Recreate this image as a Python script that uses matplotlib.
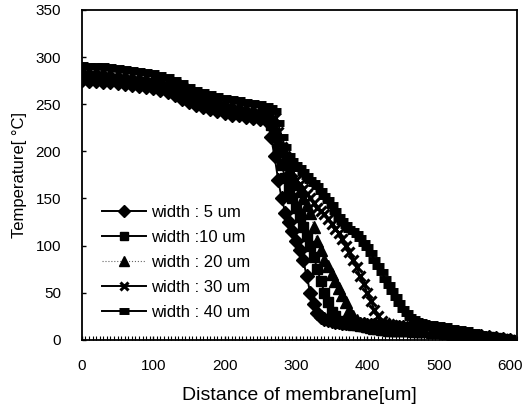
import numpy as np
import matplotlib
matplotlib.use("Agg")
import matplotlib.pyplot as plt

plt.rcParams['font.family'] = ['Liberation Sans', 'DejaVu Sans']

# distance along membrane [um]: 10 um steps, 5 um steps through the drop
dist = np.concatenate([np.arange(0, 251, 10), np.arange(260, 481, 5), np.arange(490, 601, 10)])

w5 = [276, 275, 275, 274, 273, 272, 271, 270, 269, 268, 267, 265, 263, 260, 256, 252,
      249, 247, 245, 243, 241, 239, 238, 236, 235, 234,
      232, 215, 195, 170, 150, 135, 125, 115, 105, 95, 85, 68, 50, 38, 28, 24, 22, 21,
      20, 19, 19, 18, 18, 18, 18, 17, 17, 17, 16, 16, 16, 15, 15, 15, 15, 14, 14, 14,
      14, 13, 13, 13, 12, 12, 11,
      10, 9, 8, 7, 6, 5, 4, 4, 3, 2, 1, 0]
w10 = [280, 279, 279, 278, 277, 276, 275, 274, 273, 272, 271, 269, 267, 264, 260, 256,
       253, 251, 249, 247, 245, 243, 242, 240, 239, 238,
       236, 228, 215, 200, 185, 172, 160, 150, 140, 130, 120, 110, 100, 88, 75, 62, 50,
       40, 30, 25, 20, 18, 17, 17, 16, 16, 15, 15, 14, 14, 14, 13, 13, 13, 13, 12, 12,
       12, 12, 11, 11, 11, 11, 10, 10,
       9, 8, 7, 6, 5, 5, 4, 3, 3, 2, 1, 0]
w20 = [284, 283, 283, 282, 281, 280, 279, 278, 277, 276, 275, 273, 271, 268, 264, 260,
       257, 255, 253, 251, 249, 247, 246, 244, 243, 242,
       240, 235, 225, 212, 200, 190, 180, 172, 165, 158, 150, 143, 135, 120, 105, 95, 85,
       78, 70, 62, 55, 48, 40, 32, 25, 21, 18, 16, 15, 14, 13, 13, 12, 12, 11, 11, 11,
       11, 10, 10, 10, 9, 9, 9, 9,
       8, 8, 7, 6, 5, 4, 4, 3, 2, 2, 1, 0]
w30 = [288, 287, 287, 286, 285, 284, 283, 282, 281, 280, 279, 277, 275, 272, 268, 264,
       261, 259, 257, 255, 253, 251, 250, 248, 247, 246,
       244, 240, 235, 220, 205, 195, 185, 178, 170, 165, 160, 155, 150, 145, 140, 137,
       133, 128, 123, 118, 113, 107, 100, 93, 85, 77, 68, 59, 50, 41, 32, 25, 20, 18, 17,
       16, 15, 14, 14, 13, 13, 12, 12, 11, 11,
       10, 9, 8, 7, 6, 5, 4, 3, 2, 1, 1, 0]
w40 = [292, 291, 291, 290, 289, 288, 287, 286, 285, 284, 283, 281, 279, 276, 272, 268,
       265, 263, 261, 259, 257, 255, 254, 252, 251, 250,
       248, 246, 243, 230, 215, 205, 195, 190, 185, 182, 178, 174, 170, 166, 163, 158,
       153, 148, 143, 137, 130, 126, 122, 118, 115, 112, 108, 103, 98, 92, 85, 78, 72, 65,
       58, 52, 45, 39, 33, 28, 24, 22, 20, 19, 18,
       17, 16, 15, 13, 12, 10, 8, 6, 4, 3, 1, 0]

labels = ['width : 5 um', 'width :10 um', 'width : 20 um', 'width : 30 um', 'width : 40 um']

fig = plt.figure(figsize=(5.25, 4.12), dpi=100)
ax = fig.add_axes([0.156, 0.175, 0.829, 0.801])

ax.plot(dist, w5, color='black', lw=1.4, marker='D', ms=7, label=labels[0])
ax.plot(dist, w10, color='black', lw=1.4, marker='s', ms=7, label=labels[1])
ax.plot(dist, w20, color='0.4', lw=0.8, ls=':', marker='^', ms=8,
        mfc='black', mec='black', label=labels[2])
ax.plot(dist, w30, color='black', lw=1.4, marker='x', ms=7, mew=2.2, label=labels[3])
ax.plot(dist, w40, color='black', lw=1.4, marker='_', ms=8, mew=5, label=labels[4])

ax.set_xlim(0, 610)
ax.set_ylim(0, 350)
ax.set_xticks(range(0, 601, 100))
ax.set_yticks(range(0, 351, 50))
ax.set_xticks(np.arange(0, 611, 5), minor=True)
ax.tick_params(axis='both', direction='in', labelsize=11, length=3, width=1)
ax.tick_params(axis='x', which='minor', direction='in', length=3, width=0.8)
ax.tick_params(axis='x', pad=14)
ax.tick_params(axis='y', pad=15)
for s in ax.spines.values():
    s.set_linewidth(1.3)

ax.set_xlabel('Distance of membrane[um]', fontsize=14, labelpad=10)
ax.set_ylabel('Temperature[ °C]', fontsize=12, labelpad=6)

ax.legend(loc='upper left', bbox_to_anchor=(0.02, 0.445), frameon=False,
          fontsize=12, handlelength=2.6, labelspacing=0.6, handletextpad=0.3,
          borderpad=0.2, markerscale=0.85)

fig.savefig('out.png', dpi=100)
